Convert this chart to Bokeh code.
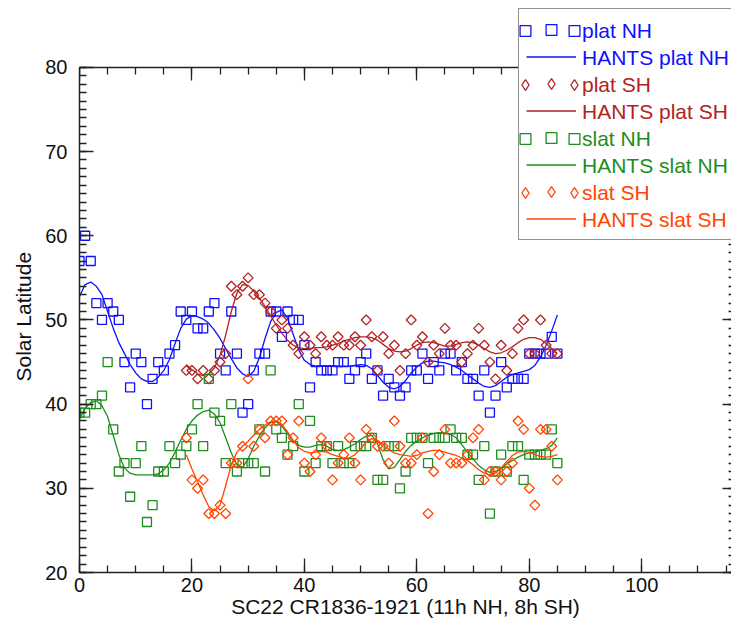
import math

from bokeh.plotting import figure
from bokeh.models import (Range1d, LinearAxis, SingleIntervalTicker, Legend, LegendItem,
                          CustomJSTickFormatter)
from bokeh.embed import file_html
from bokeh.resources import INLINE

# Carrington rotation index (0 = CR1836)
rot_nh = list(range(0, 86))
rot_sh = list(range(19, 86))

# polar boundary latitude, north
plat_nh = [57, 60, 57, 52, 50, 52, 51, 50, 45, 42,
           46, 45, 40, 43, 45, 44, 46, 47, 51, 50,
           51, 49, 49, 51, 52, 46, 44, 51, 46, 39,
           40, 44, 46, 46, 51, 51, 48, 51, 50, 50,
           47, 42, 45, 44, 44, 44, 45, 45, 43, 44,
           45, 46, 43, 44, 41, 43, 42, 41, 42, 44,
           44, 46, 43, 45, 44, 46, 46, 44, 45, 43,
           43, 41, 44, 39, 41, 45, 42, 43, 43, 43,
           46, 46, 46, 46, 48, 46]
hants_plat_nh = [52.8, 54.2, 54.5, 54.0, 53.0, 51.0, 49.0, 47.3, 46.0, 44.7,
                 43.7, 43.0, 42.7, 42.7, 43.2, 44.0, 45.3, 47.2, 49.0, 50.1,
                 50.5, 50.4, 50.1, 49.6, 48.8, 47.8, 46.6, 45.4, 44.3, 43.6,
                 43.3, 43.9, 45.5, 47.8, 49.8, 50.9, 51.2, 50.2, 48.3, 46.4,
                 45.2, 44.7, 44.5, 44.5, 44.5, 44.5, 44.5, 44.5, 44.5, 44.6,
                 44.7, 44.6, 44.2, 43.4, 42.6, 42.0, 41.8, 42.1, 42.8, 43.7,
                 44.4, 44.9, 45.1, 45.1, 45.0, 44.9, 44.7, 44.4, 44.0, 43.5,
                 43.0, 42.5, 42.1, 42.0, 42.2, 42.7, 43.2, 43.5, 43.7, 43.9,
                 44.1, 44.6, 45.6, 47.0, 48.7, 50.6]

# polar boundary latitude, south
plat_sh = [44, 44, 43, 44, 43, 44, 45, 46, 54, 53,
           54, 55, 53, 53, 52, 51, 49, 50, 49, 47,
           46, 48, 47, 46, 48, 47, 47, 48, 47, 47,
           48, 47, 50, 48, 44, 48, 46, 47, 44, 46,
           50, 47, 48, 45, 47, 46, 49, 47, 47, 45,
           46, 47, 49, 47, 45, 43, 47, 44, 46, 49,
           50, 46, 46, 50, 47, 46, 46]
hants_plat_sh = [44.7, 44.1, 43.6, 43.4, 43.6, 44.3, 45.8, 48.2, 51.0, 53.2,
                 54.2, 54.1, 53.4, 52.6, 51.6, 50.5, 49.4, 48.4, 47.6, 47.0,
                 46.7, 46.6, 46.6, 46.7, 46.7, 46.8, 47.0, 47.2, 47.5, 47.7,
                 47.9, 48.0, 48.0, 47.9, 47.6, 47.1, 46.6, 46.3, 46.2, 46.3,
                 46.6, 47.0, 47.3, 47.4, 47.3, 47.1, 46.9, 46.9, 47.1, 47.3,
                 47.4, 47.3, 47.0, 46.6, 46.2, 46.0, 46.1, 46.4, 46.8, 47.3,
                 47.7, 47.9, 47.9, 47.7, 47.2, 46.6, 46.0]

# sunspot boundary latitude, north
slat_nh = [39, 39, 40, 40, 41, 45, 37, 32, 33, 29,
           33, 35, 26, 28, 32, 32, 35, 33, 34, 35,
           37, 40, 35, 43, 39, 38, 33, 40, 32, 33,
           33, 33, 37, 32, 44, 37, 36, 34, 35, 40,
           32, 38, 33, 35, 35, 33, 35, 33, 33, 35,
           35, 35, 36, 31, 31, 35, 35, 30, 32, 36,
           36, 36, 33, 36, 36, 36, 37, 36, 36, 34,
           34, 31, 35, 27, 32, 34, 32, 35, 35, 31,
           34, 34, 34, 34, 37, 33]
hants_slat_nh = [38.2, 39.5, 40.2, 40.4, 39.8, 38.5, 36.3, 34.0, 32.4, 31.8,
                 31.6, 31.6, 31.6, 31.6, 31.7, 32.2, 33.0, 34.3, 35.7, 37.0,
                 38.0, 38.7, 39.1, 39.3, 38.8, 37.8, 36.0, 34.2, 32.8, 32.5,
                 33.5, 35.0, 36.2, 37.2, 37.8, 37.9, 37.4, 36.5, 35.6, 35.1,
                 34.9, 34.9, 35.1, 35.2, 35.0, 34.6, 34.5, 34.6, 34.9, 35.3,
                 35.8, 36.2, 36.3, 35.3, 33.4, 32.3, 32.5, 33.4, 34.4, 35.1,
                 35.6, 36.0, 36.3, 36.5, 36.6, 36.6, 36.4, 36.0, 35.2, 34.3,
                 33.5, 32.7, 32.2, 31.9, 32.0, 32.4, 32.9, 33.3, 33.7, 34.0,
                 34.2, 34.3, 34.5, 34.7, 35.1, 36.0]

# sunspot boundary latitude, south
slat_sh = [36, 31, 30, 31, 27, 27, 28, 27, 33, 33,
           35, 43, 35, 37, 36, 38, 38, 38, 34, 36,
           38, 33, 32, 34, 36, 35, 31, 33, 34, 36,
           33, 31, 37, 36, 35, 35, 33, 38, 35, 33,
           33, 34, 36, 27, 32, 34, 37, 33, 33, 33,
           34, 36, 37, 31, 32, 32, 31, 32, 33, 38,
           37, 30, 28, 37, 37, 35, 31]
hants_slat_sh = [34.0, 32.3, 30.8, 29.2, 27.8, 27.3, 28.0, 30.3, 32.8, 34.3,
                 35.0, 35.6, 36.3, 37.0, 37.5, 37.9, 38.0, 37.6, 36.7, 35.7,
                 34.8, 34.4, 34.2, 34.3, 34.4, 34.3, 34.0, 33.8, 33.6, 33.6,
                 34.0, 34.7, 35.5, 35.9, 35.7, 35.2, 34.6, 34.2, 34.0, 33.9,
                 33.8, 33.9, 34.2, 34.4, 34.5, 34.5, 34.3, 34.1, 33.9, 33.6,
                 33.3, 32.8, 32.2, 31.8, 31.6, 31.8, 32.4, 33.2, 33.9, 34.3,
                 34.4, 34.3, 34.0, 33.8, 33.7, 33.8, 34.0]

legend_labels = ["plat NH", "HANTS plat NH", "plat SH", "HANTS plat SH",
                 "slat NH", "HANTS slat NH", "slat SH", "HANTS slat SH"]

BLUE = "#1010ff"
RED = "#b22222"
GREEN = "#1e8c1e"
ORANGE = "#ff4500"
FONT = "Liberation Sans"
AXIS = "#222222"

W, H = 731, 620
# frame edges in canvas pixels
FRAME_LEFT, FRAME_TOP, FRAME_BOTTOM = 79, 0, 573
Y80 = 67   # pixel row of the 80 deg line (top of the box)
y_top = 80 + (Y80 - FRAME_TOP) * 60.0 / (FRAME_BOTTOM - Y80)
x_end = (W - FRAME_LEFT) / 5.622


def style_axis(ax, major_in, minor_in, labels=True):
    ax.axis_line_color = AXIS
    ax.axis_line_width = 1.5
    ax.major_tick_line_color = AXIS
    ax.minor_tick_line_color = AXIS
    ax.major_tick_line_width = 1.3
    ax.minor_tick_line_width = 1.3
    ax.major_tick_in = major_in
    ax.major_tick_out = 0
    ax.minor_tick_in = minor_in
    ax.minor_tick_out = 0
    if labels:
        ax.major_label_text_font = FONT
        ax.major_label_text_font_size = "20px"
        ax.major_label_text_color = "#111111"
        ax.axis_label_text_font = FONT
        ax.axis_label_text_font_size = "21px"
        ax.axis_label_text_font_style = "normal"
        ax.axis_label_text_color = "#111111"
    else:
        ax.formatter = CustomJSTickFormatter(code="return ''")
        ax.major_label_text_color = None
        ax.major_label_standoff = 0


# y title is drawn as a left-hand title so it can sit mid-way along 20..80
p = figure(width=W, height=H, output_backend="svg", toolbar_location=None,
           x_range=Range1d(0, x_end), y_range=Range1d(20, y_top),
           x_axis_label="SC22 CR1836-1921 (11h NH, 8h SH)",
           title="Solar Latitude", title_location="left",
           min_border_left=FRAME_LEFT, min_border_right=0,
           min_border_top=FRAME_TOP, min_border_bottom=H - FRAME_BOTTOM)
p.outline_line_color = None
p.xgrid.visible = False
p.ygrid.visible = False

# left-aligned title starts 'offset' px above the frame bottom
p.title.align = "left"
p.title.offset = 191
p.title.text_font = FONT
p.title.text_font_size = "21px"
p.title.text_font_style = "normal"
p.title.text_color = "#111111"
p.title.standoff = 16

p.xaxis.ticker = SingleIntervalTicker(interval=20, num_minor_ticks=4)
p.yaxis.ticker = SingleIntervalTicker(interval=10, num_minor_ticks=10)
style_axis(p.xaxis[0], 14, 7)
style_axis(p.yaxis[0], 14, 7)
p.yaxis.bounds = (20, 80)
p.xaxis.major_label_standoff = 5
p.xaxis.axis_label_standoff = 0
p.yaxis.major_label_standoff = 12

# box top drawn at 80 deg; the right side only shows the inner tick tips
top = LinearAxis(ticker=SingleIntervalTicker(interval=20, num_minor_ticks=4), fixed_location=80)
style_axis(top, 13, 7, labels=False)
p.add_layout(top, "above")
right = LinearAxis(ticker=SingleIntervalTicker(interval=10, num_minor_ticks=10), bounds=(20, 80))
style_axis(right, 9, 3, labels=False)
right.axis_line_color = None
p.add_layout(right, "right")

# data
r_pnh = p.scatter(rot_nh, plat_nh, marker="square", size=9, fill_color=None,
                  line_color=BLUE, line_width=1.3)
l_pnh = p.line(rot_nh, hants_plat_nh, line_color=BLUE, line_width=1.3)
r_psh = p.scatter(rot_sh, plat_sh, marker="square", angle=math.pi / 4, size=7,
                  fill_color=None, line_color=RED, line_width=1.3)
l_psh = p.line(rot_sh, hants_plat_sh, line_color=RED, line_width=1.3)
r_snh = p.scatter(rot_nh, slat_nh, marker="square", size=9, fill_color=None,
                  line_color=GREEN, line_width=1.3)
l_snh = p.line(rot_nh, hants_slat_nh, line_color=GREEN, line_width=1.3)
r_ssh = p.scatter(rot_sh, slat_sh, marker="square", angle=math.pi / 4, size=7,
                  fill_color=None, line_color=ORANGE, line_width=1.3)
l_ssh = p.line(rot_sh, hants_slat_sh, line_color=ORANGE, line_width=1.3)

# legend keys for the diamonds (the legend does not turn markers);
# size 0 keeps them out of the plot, the legend sizes its own keys
k_psh = p.scatter(rot_sh, plat_sh, marker="diamond", size=0, fill_color=None,
                  line_color=RED, line_width=1.3)
k_ssh = p.scatter(rot_sh, slat_sh, marker="diamond", size=0, fill_color=None,
                  line_color=ORANGE, line_width=1.3)
blank = p.line(rot_nh, plat_nh, line_alpha=0)

rows = [r_pnh, l_pnh, k_psh, l_psh, r_snh, l_snh, k_ssh, l_ssh]
colors = [BLUE, BLUE, RED, RED, GREEN, GREEN, ORANGE, ORANGE]

PAD = 7
ROW = 27
BOX_LEFT, BOX_TOP = 518, 11


def make_legend(items, left, top, nrows, boxed, glyph_w=50, standoff=7, label_w=10):
    pad = PAD if boxed else 0    # bokeh drops padding when there is no border
    height = 2 * pad + nrows * ROW
    leg = Legend(items=items, location=(left - FRAME_LEFT, FRAME_BOTTOM - top - height),
                 orientation="vertical", glyph_width=glyph_w, glyph_height=ROW,
                 spacing=0, padding=PAD, margin=0, label_standoff=standoff,
                 label_width=label_w, label_text_font_size="21px", label_text_font=FONT)
    if boxed:
        leg.border_line_color = AXIS
        leg.border_line_width = 1.5
        leg.background_fill_color = "white"
        leg.background_fill_alpha = 1.0
    else:
        leg.border_line_color = None
        leg.background_fill_alpha = 0
    return leg


# box with line keys and middle markers (runs off the right edge)
box = make_legend([LegendItem(label=" ", renderers=[r]) for r in rows],
                  BOX_LEFT, BOX_TOP, 8, True, label_w=200)
box.label_text_color = None
p.add_layout(box, "center")
# outer markers of the symbol rows
for dx in (-25, 24):
    extra = make_legend([LegendItem(label=" ", renderers=[r if i % 2 == 0 else blank])
                         for i, r in enumerate(rows)],
                        BOX_LEFT + PAD + dx, BOX_TOP + PAD, 8, False)
    extra.label_text_color = None
    p.add_layout(extra, "center")
# coloured entry texts
for i, (txt, col) in enumerate(zip(legend_labels, colors)):
    leg = make_legend([LegendItem(label=txt, renderers=[blank])], 581,
                      BOX_TOP + PAD + ROW * i, 1, False, glyph_w=1, standoff=0)
    leg.label_text_color = col
    p.add_layout(leg, "center")

open("out.html", "w").write(file_html(p, INLINE))
